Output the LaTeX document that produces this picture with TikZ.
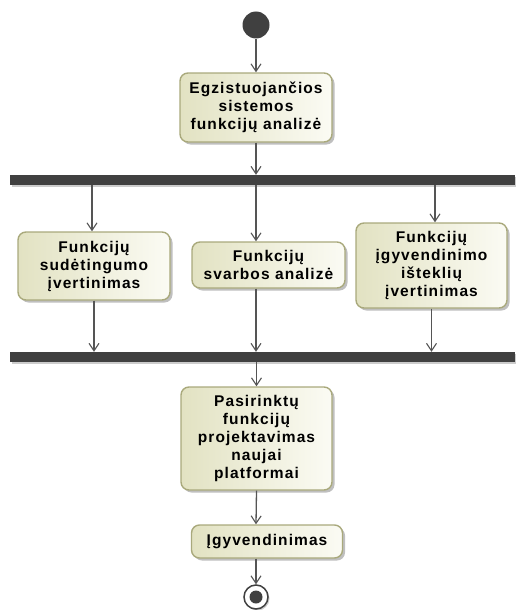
\documentclass[tikz,border=0pt]{standalone}
\usepackage{fontspec}
\newfontfamily\actfont{Liberation Sans}[LetterSpace=7]
\usetikzlibrary{arrows.meta,shadows}

\definecolor{barcol}{HTML}{404040}
\definecolor{linecol}{HTML}{555555}
\definecolor{actborder}{HTML}{A9A97C}
\definecolor{actfill}{HTML}{E2E2C2}
\definecolor{actlight}{HTML}{FBFBF4}

\tikzset{
  action/.style={
    rectangle, rounded corners=8pt, draw=actborder, line width=1.4pt,
    left color=actfill, right color=actlight,
    drop shadow={shadow xshift=2.5pt, shadow yshift=-2.5pt, opacity=0.25, fill=black},
    align=center, inner sep=0pt,
    font=\actfont\bfseries\fontsize{15.5}{18}\selectfont
  },
  forkbar/.style={
    rectangle, fill=barcol, draw=none, inner sep=0pt,
    minimum width=505pt, minimum height=10pt,
    drop shadow={shadow xshift=1.5pt, shadow yshift=-1.5pt, opacity=0.2, fill=black}
  },
  flow/.style={
    draw=linecol, line width=1.3pt,
    -{Straight Barb[length=7.5pt,width=10pt,line width=1.1pt]}
  }
}

\begin{document}
\begin{tikzpicture}[x=1pt,y=-1pt]
  \useasboundingbox (0,0) rectangle (515,610);

  % initial node
  \node[circle, fill=barcol, inner sep=0pt, minimum size=27pt] (start) at (256,25) {};

  % activities
  \node[action, minimum width=152pt, minimum height=69pt] (analyse) at (256,107.5)
    {Egzistuojančios\\sistemos\\funkcijų analizė};

  \node[forkbar] (fork) at (262.5,180) {};

  \node[action, minimum width=152pt, minimum height=68pt] (complex) at (94,266)
    {Funkcijų\\sudėtingumo\\įvertinimas};
  \node[action, minimum width=153pt, minimum height=46pt] (importance) at (268.5,265)
    {Funkcijų\\svarbos analizė};
  \node[action, minimum width=151pt, minimum height=85pt] (resources) at (431.5,265.5)
    {Funkcijų\\įgyvendinimo\\išteklių\\įvertinimas};

  \node[forkbar] (join) at (262.5,357) {};

  \node[action, minimum width=151pt, minimum height=103pt] (design) at (256.5,438.5)
    {Pasirinktų\\funkcijų\\projektavimas\\naujai\\platformai};
  \node[action, minimum width=151pt, minimum height=33pt] (implement) at (267,541.5)
    {Įgyvendinimas};

  % final node
  \node[circle, draw=barcol, line width=1.5pt, fill=white, inner sep=0pt, minimum size=24pt,
        drop shadow={shadow xshift=1.5pt, shadow yshift=-1.5pt, opacity=0.2, fill=black}] (final) at (256,597) {};
  \node[circle, fill=barcol, inner sep=0pt, minimum size=13pt] (finaldot) at (final.center) {};

  % control flows
  \draw[flow] (start.south) -- (analyse.north);
  \draw[flow] (analyse.south) -- (fork.north -| analyse.south);

  \draw[flow] ([xshift=-2pt]complex.north |- fork.south) -- ([xshift=-2pt]complex.north);
  \draw[flow] ([xshift=-12.5pt]importance.north |- fork.south) -- ([xshift=-12.5pt]importance.north);
  \draw[flow] ([xshift=3.5pt]resources.north |- fork.south) -- ([xshift=3.5pt]resources.north);

  \draw[flow] (complex.south) -- (join.north -| complex.south);
  \draw[flow] ([xshift=-12.5pt]importance.south) -- ([xshift=-12.5pt]importance.south |- join.north);
  \draw[flow] (resources.south) -- (join.north -| resources.south);

  \draw[flow] (design.north |- join.south) -- (design.north);
  \draw[flow] (design.south) -- ([xshift=-11pt]implement.north);
  \draw[flow] ([xshift=-11pt]implement.south) -- (final.north);
\end{tikzpicture}
\end{document}
